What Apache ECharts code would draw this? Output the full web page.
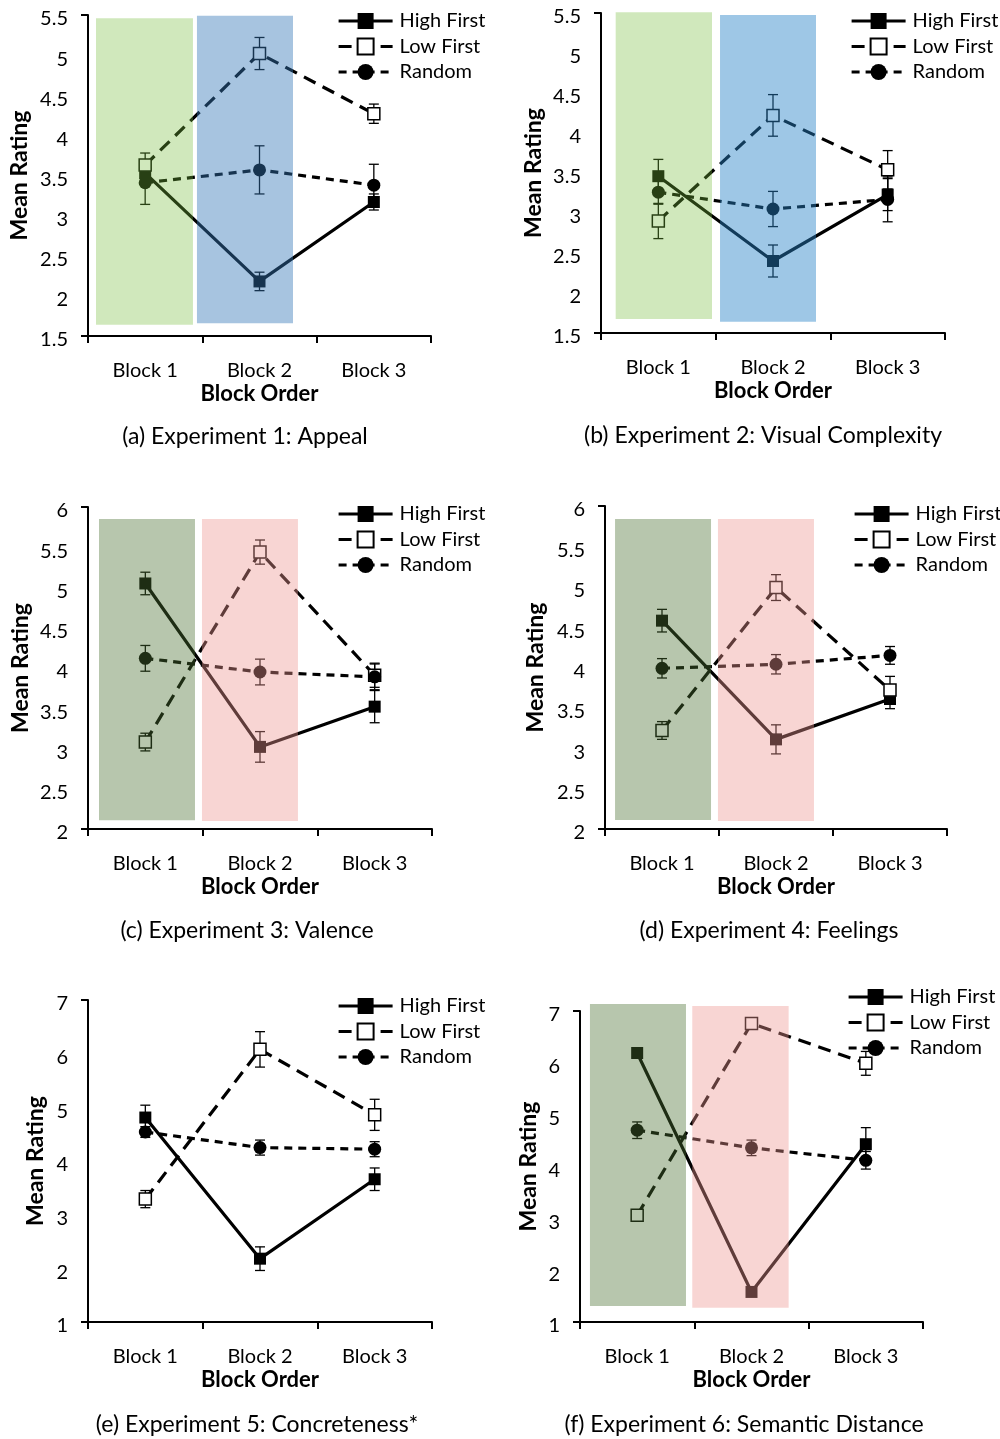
<!DOCTYPE html>
<html><head><meta charset="utf-8">
<script src="https://cdn.jsdelivr.net/npm/echarts@6/dist/echarts.min.js"></script>
<style>html,body{margin:0;padding:0;background:#fff}#c{width:1000px;height:1439px}</style>
</head><body><div id="c"></div><script>
// ---------- DATA ----------
const categories = ['Block 1', 'Block 2', 'Block 3'];
const seriesNames = ['High First', 'Low First', 'Random'];

// (a) Experiment 1: Appeal
const aHigh = [3.53, 2.18, 3.17];  const aHighErr = [0.10, 0.115, 0.10];
const aLow  = [3.63, 5.02, 4.27];  const aLowErr  = [0.15, 0.20, 0.12];
const aRand = [3.41, 3.57, 3.38];  const aRandErr = [0.27, 0.30, 0.26];
const aShade = [[-0.43, 0.418, 1.64, 5.46], [0.453, 1.293, 1.66, 5.49]];

// (b) Experiment 2: Visual Complexity
const bHigh = [3.46, 2.40, 3.23];  const bHighErr = [0.21, 0.20, 0.20];
const bLow  = [2.90, 4.22, 3.54];  const bLowErr  = [0.22, 0.26, 0.24];
const bRand = [3.26, 3.05, 3.17];  const bRandErr = [0.15, 0.22, 0.28];
const bShade = [[-0.372, 0.468, 1.675, 5.51], [0.538, 1.375, 1.64, 5.475]];

// (c) Experiment 3: Valence
const cHigh = [5.05, 3.02, 3.52];  const cHighErr = [0.14, 0.19, 0.20];
const cLow  = [3.08, 5.44, 3.91];  const cLowErr  = [0.11, 0.15, 0.15];
const cRand = [4.12, 3.95, 3.89];  const cRandErr = [0.16, 0.16, 0.16];
const cShade = [[-0.404, 0.433, 2.11, 5.85], [0.494, 1.331, 2.10, 5.85]];

// (d) Experiment 4: Feelings
const dHigh = [4.58, 3.11, 3.61];  const dHighErr = [0.14, 0.18, 0.12];
const dLow  = [3.22, 4.99, 3.72];  const dLowErr  = [0.11, 0.16, 0.17];
const dRand = [3.99, 4.04, 4.15];  const dRandErr = [0.12, 0.12, 0.11];
const dShade = [[-0.412, 0.430, 2.11, 5.84], [0.491, 1.333, 2.10, 5.84]];

// (e) Experiment 5: Concreteness*
const eHigh = [4.81, 2.18, 3.66];  const eHighErr = [0.23, 0.22, 0.21];
const eLow  = [3.29, 6.08, 4.86];  const eLowErr  = [0.16, 0.33, 0.29];
const eRand = [4.54, 4.25, 4.22];  const eRandErr = [0.10, 0.14, 0.14];
const eShade = [];

// (f) Experiment 6: Semantic Distance
const fHigh = [6.19, 1.58, 4.43];  const fHighErr = [0.06, 0.05, 0.32];
const fLow  = [3.06, 6.76, 5.99];  const fLowErr  = [0.06, 0.05, 0.23];
const fRand = [4.70, 4.36, 4.12];  const fRandErr = [0.16, 0.15, 0.17];
const fShade = [[-0.413, 0.427, 1.31, 7.135], [0.482, 1.325, 1.276, 7.096]];

const titles = [
  '(a) Experiment 1: Appeal', '(b) Experiment 2: Visual Complexity',
  '(c) Experiment 3: Valence', '(d) Experiment 4: Feelings',
  '(e) Experiment 5: Concreteness*', '(f) Experiment 6: Semantic Distance'
];
const yRanges = [[1.5, 5.5, 0.5], [1.5, 5.5, 0.5], [2, 6, 0.5], [2, 6, 0.5], [1, 7, 1], [1, 7, 1]];

// ---------- LAYOUT / STYLE ----------
const FONT = 'Lato, "Open Sans", sans-serif';
const GREEN1 = 'rgba(118,188,59,0.34)';
const BLUE1 = 'rgba(53,120,184,0.435)';
const BLUE2 = 'rgba(40,130,200,0.45)';
const GREEN2 = 'rgba(75,112,50,0.40)';
const PINK = 'rgba(237,150,145,0.40)';

const panels = [
  {high: aHigh, highErr: aHighErr, low: aLow, lowErr: aLowErr, rand: aRand, randErr: aRandErr, shade: aShade, colors: [GREEN1, BLUE1],
   grid: {left: 88, top: 15, width: 343, height: 321}, yGap: 57, legend: [337, 11], title: [245, 437]},
  {high: bHigh, highErr: bHighErr, low: bLow, lowErr: bLowErr, rand: bRand, randErr: bRandErr, shade: bShade, colors: [GREEN1, BLUE2],
   grid: {left: 601, top: 13, width: 344, height: 320}, yGap: 56, legend: [850, 11], title: [763, 436]},
  {high: cHigh, highErr: cHighErr, low: cLow, lowErr: cLowErr, rand: cRand, randErr: cRandErr, shade: cShade, colors: [GREEN2, PINK],
   grid: {left: 88, top: 507, width: 344, height: 322}, yGap: 56, legend: [337, 504], title: [247, 931]},
  {high: dHigh, highErr: dHighErr, low: dLow, lowErr: dLowErr, rand: dRand, randErr: dRandErr, shade: dShade, colors: [GREEN2, PINK],
   grid: {left: 605, top: 506, width: 342, height: 323}, yGap: 58, legend: [853, 504], title: [769, 931]},
  {high: eHigh, highErr: eHighErr, low: eLow, lowErr: eLowErr, rand: eRand, randErr: eRandErr, shade: eShade, colors: [],
   grid: {left: 88, top: 1000, width: 344, height: 322}, yGap: 41, legend: [337, 996], title: [257, 1425]},
  {high: fHigh, highErr: fHighErr, low: fLow, lowErr: fLowErr, rand: fRand, randErr: fRandErr, shade: fShade, colors: [GREEN2, PINK],
   grid: {left: 580, top: 1011, width: 343, height: 311}, yGap: 40, legend: [847, 987], title: [744, 1425]}
];

function renderErr(params, api) {
  const x = api.value(0), lo = api.value(1), hi = api.value(2);
  const pLo = api.coord([x, lo]), pHi = api.coord([x, hi]);
  const hw = 5;
  const st = {stroke: '#000', lineWidth: 1.3};
  return {type: 'group', children: [
    {type: 'line', shape: {x1: pLo[0], y1: pLo[1], x2: pHi[0], y2: pHi[1]}, style: st},
    {type: 'line', shape: {x1: pLo[0] - hw, y1: pLo[1], x2: pLo[0] + hw, y2: pLo[1]}, style: st},
    {type: 'line', shape: {x1: pHi[0] - hw, y1: pHi[1], x2: pHi[0] + hw, y2: pHi[1]}, style: st}
  ]};
}
function renderRect(params, api) {
  const p0 = api.coord([api.value(0), api.value(3)]);
  const p1 = api.coord([api.value(1), api.value(2)]);
  return {type: 'rect', shape: {x: p0[0], y: p0[1], width: p1[0] - p0[0], height: p1[1] - p0[1]},
          style: {fill: api.visual('color')}};
}

const option = {
  animation: false,
  backgroundColor: '#fff',
  textStyle: {fontFamily: FONT, color: '#000'},
  grid: [], xAxis: [], yAxis: [], series: [], legend: [], graphic: []
};

const dashTypes = ['solid', [13, 8], [8, 6]];
const lineStyles = [
  {symbol: 'rect', symbolSize: 12, itemStyle: {color: '#000'}, lineStyle: {color: '#000', width: 3.2, type: dashTypes[0]}},
  {symbol: 'rect', symbolSize: 12, itemStyle: {color: '#fff', borderColor: '#000', borderWidth: 1.5}, lineStyle: {color: '#000', width: 3.2, type: dashTypes[1]}},
  {symbol: 'circle', symbolSize: 13, itemStyle: {color: '#000'}, lineStyle: {color: '#000', width: 3.2, type: dashTypes[2]}}
];

panels.forEach((p, i) => {
  const [ymin, ymax, yint] = yRanges[i];
  option.grid.push(Object.assign({containLabel: false}, p.grid));
  option.xAxis.push({
    type: 'category', gridIndex: i, data: categories, boundaryGap: true,
    axisLine: {onZero: false, lineStyle: {color: '#000', width: 2}},
    axisTick: {show: true, length: 7, lineStyle: {color: '#000', width: 2}},
    axisLabel: {color: '#000', fontSize: 20, fontFamily: FONT, margin: 25},
    name: 'Block Order', nameLocation: 'middle', nameGap: 47,
    nameTextStyle: {fontSize: 22, fontWeight: 'bold', fontFamily: FONT, color: '#000'}
  });
  option.yAxis.push({
    type: 'value', gridIndex: i, min: ymin, max: ymax, interval: yint,
    axisLine: {show: true, onZero: false, lineStyle: {color: '#000', width: 2}},
    axisTick: {show: true, length: 7, customValues: [ymin, ymax], lineStyle: {color: '#000', width: 2}},
    splitLine: {show: false},
    axisLabel: {color: '#000', fontSize: 20, fontFamily: FONT, margin: 20, verticalAlign: 'top', lineHeight: 8},
    name: 'Mean Rating', nameLocation: 'middle', nameGap: p.yGap,
    nameTextStyle: {fontSize: 23, fontWeight: 'bold', fontFamily: FONT, color: '#000'}
  });
});
// hidden value x axes for shaded regions
panels.forEach((p, i) => {
  option.xAxis.push({type: 'value', gridIndex: i, min: -0.5, max: 2.5, show: false,
                     axisLine: {onZero: false}});
});

panels.forEach((p, i) => {
  const vals = [p.high, p.low, p.rand];
  const errs = [p.highErr, p.lowErr, p.randErr];
  vals.forEach((v, k) => {
    option.series.push({
      type: 'custom', xAxisIndex: i, yAxisIndex: i, z: 2, silent: true,
      renderItem: renderErr,
      data: v.map((m, j) => [j, m - errs[k][j], m + errs[k][j]])
    });
  });
  vals.forEach((v, k) => {
    option.series.push(Object.assign({
      type: 'line', name: seriesNames[k], xAxisIndex: i, yAxisIndex: i, z: 3,
      data: v, showAllSymbol: true
    }, JSON.parse(JSON.stringify(lineStyles[k]))));
  });
  if (p.shade.length) {
    option.series.push({
      type: 'custom', xAxisIndex: panels.length + i, yAxisIndex: i, z: 10, silent: true, clip: false,
      renderItem: renderRect,
      encode: {x: [0, 1], y: [2, 3]},
      data: p.shade.map((s, j) => ({value: s, itemStyle: {color: p.colors[j]}}))
    });
  }
  option.legend.push({
    data: seriesNames.map((n, k) => ({name: n, lineStyle: {width: 3.2, color: '#000', type: dashTypes[k]}})),
    orient: 'vertical', left: p.legend[0], top: p.legend[1], padding: 0,
    itemWidth: 54, itemHeight: 20, itemGap: 5.5, selectedMode: false,
    textStyle: {fontSize: 20, fontFamily: FONT, color: '#000', padding: [0, 0, 0, 2]}
  });
  option.graphic.push({
    type: 'text', x: p.title[0], y: p.title[1],
    style: {text: titles[i], fontSize: 23, fontFamily: FONT, fill: '#000', align: 'center', verticalAlign: 'middle'}
  });
});

const chart = echarts.init(document.getElementById('c'), null, {renderer: 'canvas'});
chart.setOption(option);
</script></body></html>
